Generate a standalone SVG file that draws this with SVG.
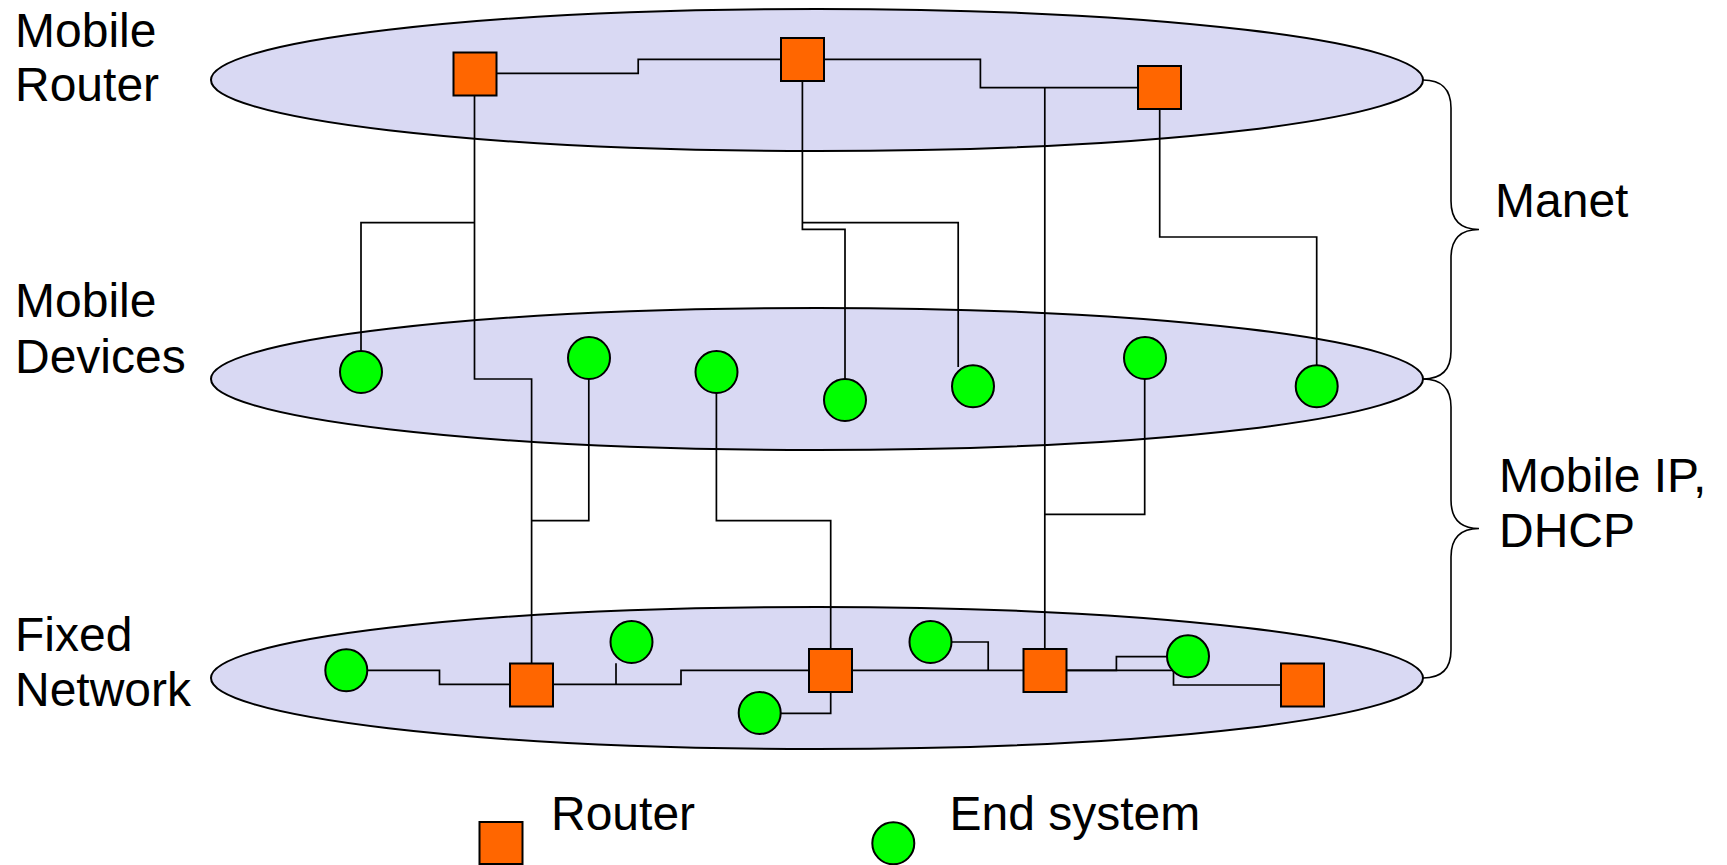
<svg xmlns="http://www.w3.org/2000/svg" width="1727" height="865" viewBox="0 0 1727 865">
<style>
.layer{fill:#D9D9F3;stroke:#000;stroke-width:2}
.router{fill:#FF6600;stroke:#000;stroke-width:2}
.host{fill:#00FF00;stroke:#000;stroke-width:2}
.wire{fill:none;stroke:#000;stroke-width:1.7}
.brace{fill:none;stroke:#000;stroke-width:1.6}
.lbl{font-family:"Liberation Sans",Arial,sans-serif;font-size:48px;fill:#000}
</style>
<rect width="1727" height="865" fill="#fff"/>
<g id="layer-mobile-router"><ellipse class="layer" cx="817" cy="80" rx="606" ry="71"/></g>
<g id="layer-mobile-devices"><ellipse class="layer" cx="817" cy="379" rx="606" ry="71"/></g>
<g id="layer-fixed-network"><ellipse class="layer" cx="817" cy="678" rx="606" ry="71"/></g>
<g id="connectors">
<path class="wire" d="M496.7,73.3 H638.2 V59.3 H780.8"/>
<path class="wire" d="M824.1,59.3 H980.4 V87.7 H1137.5"/>
<path class="wire" d="M1044.8,87.7 V649"/>
<path class="wire" d="M474.5,95.7 V379 H531.6 V663.3"/>
<path class="wire" d="M474.5,222.7 H361 V351"/>
<path class="wire" d="M802.4,81 V229.3 H845 V379"/>
<path class="wire" d="M802.4,222.7 H958.2 V367"/>
<path class="wire" d="M1159.7,109.3 V237 H1316.7 V365"/>
<path class="wire" d="M588.8,379 V520.7 H531.6"/>
<path class="wire" d="M716.4,393.3 V520.7 H830.7 V649"/>
<path class="wire" d="M1144.7,379 V514.3 H1044.8"/>
<path class="wire" d="M367.4,670.3 H439.5 V684.3 H510"/>
<path class="wire" d="M553.3,684.3 H681 V670.3 H809"/>
<path class="wire" d="M616,684.3 V663.3"/>
<path class="wire" d="M780.8,713.3 H830.7 V691.7"/>
<path class="wire" d="M852.4,670.3 H1023.2"/>
<path class="wire" d="M951.6,642 H988.2 V670.3"/>
<path class="wire" d="M1066.4,670.3 H1116.4 V656.7 H1166.9"/>
<path class="wire" d="M1066.4,670.3 H1173.5 V685 H1280.6"/>
</g>
<g id="brace-manet"><path class="brace" d="M1423,80 Q1451,80 1451,108 V201 Q1451,229.5 1479,229.5 Q1451,229.5 1451,258 V351 Q1451,379 1423,379"/></g>
<g id="brace-mobileip"><path class="brace" d="M1423,379 Q1451,379 1451,407 V500 Q1451,528.5 1479,528.5 Q1451,528.5 1451,557 V650 Q1451,678 1423,678"/></g>
<g id="r1"><rect class="router" x="453.5" y="52.5" width="43" height="43"/></g>
<g id="r2"><rect class="router" x="781" y="38" width="43" height="43"/></g>
<g id="r3"><rect class="router" x="1138" y="66" width="43" height="43"/></g>
<g id="md1"><circle class="host" cx="361" cy="372" r="21"/></g>
<g id="md2"><circle class="host" cx="589" cy="358" r="21"/></g>
<g id="md3"><circle class="host" cx="716.5" cy="372" r="21"/></g>
<g id="md4"><circle class="host" cx="845" cy="400" r="21"/></g>
<g id="md5"><circle class="host" cx="973" cy="386.3" r="21"/></g>
<g id="md6"><circle class="host" cx="1145" cy="358" r="21"/></g>
<g id="md7"><circle class="host" cx="1316.7" cy="386.3" r="21"/></g>
<g id="fr1"><rect class="router" x="510" y="663.5" width="43" height="43"/></g>
<g id="fr2"><rect class="router" x="809" y="649" width="43" height="43"/></g>
<g id="fr3"><rect class="router" x="1023.5" y="649" width="43" height="43"/></g>
<g id="fr4"><rect class="router" x="1281" y="663.5" width="43" height="43"/></g>
<g id="fe1"><circle class="host" cx="346.3" cy="670.3" r="21"/></g>
<g id="fe2"><circle class="host" cx="631.5" cy="642" r="21"/></g>
<g id="fe3"><circle class="host" cx="759.7" cy="713" r="21"/></g>
<g id="fe4"><circle class="host" cx="930.5" cy="642" r="21"/></g>
<g id="fe5"><circle class="host" cx="1188" cy="656.3" r="21"/></g>
<g id="labels">
<text class="lbl" x="15" y="46.7">Mobile</text>
<text class="lbl" x="15" y="101">Router</text>
<text class="lbl" x="15" y="317.3">Mobile</text>
<text class="lbl" x="15" y="373.3">Devices</text>
<text class="lbl" x="15" y="650.7">Fixed</text>
<text class="lbl" x="15" y="706">Network</text>
<text class="lbl" x="1495" y="217.3">Manet</text>
<text class="lbl" x="1499" y="491.7">Mobile IP,</text>
<text class="lbl" x="1499" y="546.7">DHCP</text>
</g>
<g id="legend-router"><rect class="router" x="479.5" y="822" width="43" height="42"/><text class="lbl" x="551" y="830">Router</text></g>
<g id="legend-end-system"><circle class="host" cx="893.3" cy="843.3" r="21"/><text class="lbl" x="949.5" y="830">End system</text></g>
</svg>
